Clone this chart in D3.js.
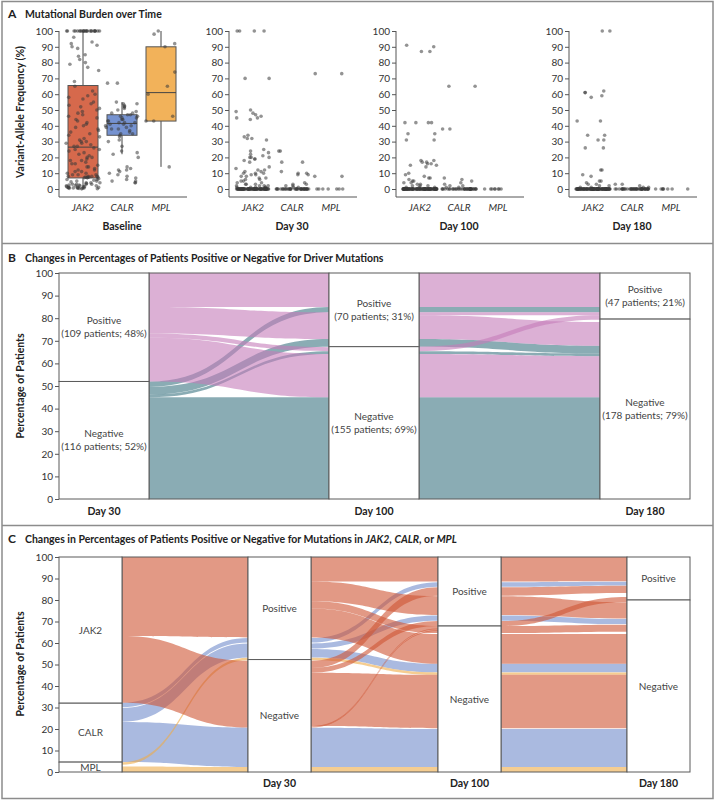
<!DOCTYPE html>
<html><head><meta charset="utf-8">
<script src="https://cdn.jsdelivr.net/npm/d3@7"></script>
<style>
body{margin:0;background:#fff;}
svg{display:block;font-family:Lato,"Open Sans",sans-serif;}
</style>
</head><body>
<svg id="chart" width="715" height="800"></svg>
<script>
// ---------------- DATA ----------------
const genes = ["JAK2", "CALR", "MPL"];
const timepoints = ["Baseline", "Day 30", "Day 100", "Day 180"];
const pctTicks = [0, 10, 20, 30, 40, 50, 60, 70, 80, 90, 100];

// Panel A: variant-allele frequency (%) per patient
const vafBaselineJAK2 = [100,100,100,100,100,100,100,100,100,100,100,100,100,100,100,100,100,100,100,100,100,100,100,100,
  96,93,92,91,90,89,85,84,82,80,79,77,75,68,
  65,62,60,59,58,57,55,54,53,52,51,50,49,48,47,46,45,44,43,42,41,40,39,38,37,36,35,34,33,32,31,30,30,29,29,28,27,27,
  26,25,25,24,23,22,21,20,20,19,18,18,17,16,16,15,14,14,13,12,12,11,11,10,10,9,9,9,8,8,8,8,7.5,7.5,7.5,7.2,7.2,7.1,
  6.5,6,6,5.5,5,5,4.5,4,4,4,3.5,3,3,3,3,2.5,2.5,2,2,2,2,1.5,1.5,1.5,1,1,1,1,1,0.8,0.7,0.6,0.5,0.5,0.4,0.3,0.2,0.1];
const vafBaselineCALR = [67,67,55,54,54,53,52,52,51,50,49,48,48,47,47,46,46,45,45,44,44,43,43,42,42,42,41,41,40,40,
  39,39,38,38,37,36,35,35,34,33,31,30,27,24,23,22,20,14,13,12,12,11,10,9,8,7,6,5,5,4,4];
const vafBaselineMPL = [100,98,92,90,74,65,60,46,43,43,14];

const vafDay30JAK2 = [100,100,100,100,70,70,50,49,48,47,46,45,45,44,34,33,32,32,31,25,24,23,22,21,20,20,20,19,19,18,17,
  14,13,12,12,11,11,10,10,10,9,9,8,8,7,7,6,6,5,5,4,4,3,3,3,2,2,2,2,1,1,1,1,1,
  0,0,0,0,0,0,0,0,0,0,0,0,0,0,0,0,0,0,0,0,0,0,0,0,0,0,0,0,0,0,0,0,0,0,0,0,0,0,0,0,
  0,0,0,0,0,0,0,0,0,0,0,0,0,0,0,0,0,0,0,0,0,0,0,0,0,0,0,0,0,0,0,0,0,0,0,0,0,0,0,0];
const vafDay30CALR = [24,24,17,17,11,10,10,9,9,4,3,3,2,2,1,1,
  0,0,0,0,0,0,0,0,0,0,0,0,0,0,0,0,0,0,0,0,0,0,0,0,0,0,0,0,0,0,0,0,0,0,0,0,0,0,0,0];
const vafDay30MPL = [73,73,8,8,0,0,0,0,0,0,0];

const vafDay100JAK2 = [91,90,87,87,42,42,42,42,35,35,31,31,18,18,17,17,16,16,15,15,14,10,9,8,7,7,6,5,5,4,4,3,3,2,2,2,1,1,1,
  0,0,0,0,0,0,0,0,0,0,0,0,0,0,0,0,0,0,0,0,0,0,0,0,0,0,0,0,0,0,0,0,0,0,0,0,0,0,0,0,
  0,0,0,0,0,0,0,0,0,0,0,0,0,0,0,0,0,0,0,0,0,0,0,0,0,0,0,0,0,0,0,0,0,0,0,0,0,0,0,0,
  0,0,0,0,0,0,0,0,0,0,0,0,0,0,0,0,0,0,0,0];
const vafDay100CALR = [65,65,38,38,7,6,5,4,3,2,2,1,1,
  0,0,0,0,0,0,0,0,0,0,0,0,0,0,0,0,0,0,0,0,0,0,0,0,0,0,0,0,0,0,0,0,0,0,0,0,0,0,0,0];
const vafDay100MPL = [0,0,0,0,0,0,0,0];

const vafDay180JAK2 = [100,100,62,61,61,59,58,43,43,34,34,31,31,26,26,12,12,9,8,5,5,4,3,3,2,2,1,1,
  0,0,0,0,0,0,0,0,0,0,0,0,0,0,0,0,0,0,0,0,0,0,0,0,0,0,0,0,0,0,0,0,0,0,0,0,0,0,0,0,
  0,0,0,0,0,0,0,0,0,0,0,0,0,0,0,0,0,0,0,0,0,0,0,0,0,0,0,0,0,0,0,0,0,0,0,0,0,0,0,0,
  0,0,0,0,0,0,0,0,0,0,0,0,0,0,0,0,0,0,0,0];
const vafDay180CALR = [3,3,2,1,1,
  0,0,0,0,0,0,0,0,0,0,0,0,0,0,0,0,0,0,0,0,0,0,0,0,0,0,0,0,0,0,0,0,0,0,0,0,0,0,0,0,0,0,0,0,0];
const vafDay180MPL = [0,0,0,0,0,0,0,0];

// Baseline box-plot statistics (JAK2, CALR, MPL)
const boxLow = [0, 22, 14];
const boxQ1 = [7, 34, 43];
const boxMedian = [26.5, 41.5, 61];
const boxQ3 = [65.5, 47, 90];
const boxHigh = [100, 55, 100];

// Panel B: strata
const stagesB = ["Day 30", "Day 100", "Day 180"];
const posLabelB = ["(109 patients; 48%)", "(70 patients; 31%)", "(47 patients; 21%)"];
const negLabelB = ["(116 patients; 52%)", "(155 patients; 69%)", "(178 patients; 79%)"];
const negShareB = [52, 67.4, 79.6];
// Panel B flows: [from lo, from hi, to lo, to hi, status at origin]
const flowsB1 = [
  [0, 45, 0, 45, "neg"], [45, 46.2, 64.2, 65.4, "neg"], [46.2, 49.6, 67.4, 70.8, "neg"], [49.6, 52, 82.6, 85, "neg"],
  [85, 100, 85, 100, "pos"], [73.2, 85, 70.8, 82.6, "pos"], [71.4, 73.2, 65.4, 67.2, "pos"], [52, 71.4, 45, 64.2, "pos"]
];
const flowsB2 = [
  [0, 45, 0, 45, "neg"], [82.6, 85, 82.6, 85, "neg"], [64.2, 65.4, 63.2, 64.4, "neg"], [67.4, 70.8, 64.4, 67.8, "neg"],
  [85, 100, 85, 100, "pos"], [81.3, 82.6, 81.3, 82.6, "pos"], [70.8, 81.3, 67.8, 78.3, "pos"],
  [65.4, 67.4, 79.3, 81.3, "pos"], [45, 64.2, 45, 63.2, "pos"]
];

// Panel C: strata
const stagesC = ["Baseline", "Day 30", "Day 100", "Day 180"];
const baselineGeneBounds = [[32, 100], [4.6, 32], [0, 4.6]]; // JAK2, CALR, MPL
const negShareC = [52.3, 67.9, 80];
// Panel C flows: [from lo, from hi, to lo, to hi, gene]
const flowsC1 = [
  [4.6, 23.2, 2.3, 20.6, "CALR"], [23.4, 29.8, 53.3, 59.8, "CALR"], [30.1, 32.2, 60.2, 62.3, "CALR"],
  [63.2, 100, 62.6, 100, "JAK2"], [32.2, 63.2, 20.7, 51.7, "JAK2"],
  [0, 2.6, 0, 2.3, "MPL"], [3.4, 4.5, 52.0, 53.1, "MPL"]
];
const flowsC2 = [
  [2.3, 20.6, 2.3, 20.0, "CALR"], [53.3, 57.2, 46.4, 50.3, "CALR"], [57.5, 59.8, 70.4, 72.8, "CALR"], [60.2, 62.3, 86.2, 88.3, "CALR"],
  [21.4, 46.2, 20.4, 45.2, "JAK2"], [46.2, 48.4, 67.9, 70.2, "JAK2"], [48.4, 51.7, 82.0, 85.9, "JAK2"],
  [62.6, 76.1, 50.4, 64.2, "JAK2"], [76.1, 79.4, 64.6, 67.9, "JAK2"], [79.4, 88.6, 73.0, 81.8, "JAK2"], [88.6, 100, 88.6, 100, "JAK2"],
  [20.7, 21.0, 65.6, 65.9, "JAK2"], [21.0, 21.3, 66.4, 66.7, "JAK2"],
  [0, 2.3, 0, 2.3, "MPL"], [52.0, 53.1, 45.2, 46.3, "MPL"]
];
const flowsC3 = [
  [2.3, 20.0, 2.3, 20.0, "CALR"], [46.4, 50.3, 46.4, 50.3, "CALR"], [70.4, 72.8, 68.8, 71.2, "CALR"], [86.2, 88.3, 86.8, 88.5, "CALR"],
  [20.4, 45.2, 20.4, 45.2, "JAK2"], [50.4, 64.2, 50.4, 64.2, "JAK2"], [64.6, 67.9, 65.2, 68.5, "JAK2"],
  [73.0, 81.8, 71.4, 79.0, "JAK2"], [82.0, 85.9, 83.2, 86.6, "JAK2"], [88.6, 100, 88.7, 100, "JAK2"],
  [67.9, 70.2, 79.1, 81.4, "JAK2"],
  [0, 2.3, 0, 2.3, "MPL"], [45.2, 46.3, 45.2, 46.3, "MPL"]
];

// ---------------- DRAW ----------------
const svg = d3.select("#chart");
const ink = "#222", axisInk = "#555", boxInk = "#5a5a5a";
const boxFill = {JAK2: "#d6694c", CALR: "#7592d0", MPL: "#f2b25a"};
const flowFill = {pos: "#c47bb9", neg: "#3c7582", JAK2: "#cf5534", CALR: "#718ccb", MPL: "#eeac48"};
const flowOpacity = 0.6;

// frame
svg.append("rect").attr("x", 2).attr("y", 1.5).attr("width", 711).attr("height", 797)
  .attr("fill", "none").attr("stroke", "#8c8c8c").attr("stroke-width", 1.5);
[243.5, 525.5].forEach(y => svg.append("line").attr("x1", 2).attr("x2", 713).attr("y1", y).attr("y2", y)
  .attr("stroke", "#8c8c8c").attr("stroke-width", 1.5));

function panelTitle(letter, y, parts) {
  svg.append("text").attr("x", 8).attr("y", y).attr("font-size", 12).attr("font-weight", 700).attr("fill", ink).text(letter);
  const t = svg.append("text").attr("x", 25).attr("y", y).attr("font-size", 10.5).attr("font-weight", 700).attr("fill", ink);
  parts.forEach(p => t.append("tspan").attr("font-style", p[1] ? "italic" : "normal").text(p[0]));
}
function yTitle(text, cy) {
  svg.append("text").attr("transform", `translate(24,${cy}) rotate(-90)`).attr("text-anchor", "middle")
    .attr("font-size", 10.5).attr("font-weight", 700).attr("fill", ink).text(text);
}
function styleAxis(g) {
  g.select(".domain").remove();
  g.selectAll(".tick line").attr("stroke", axisInk);
  g.selectAll(".tick text").attr("font-size", 10).attr("fill", "#333").attr("font-family", "Lato,'Open Sans',sans-serif");
}

// ===== Panel A =====
panelTitle("A", 18, [["Mutational Burden over Time", false]]);
yTitle("Variant-Allele Frequency (%)", 112);
const yA = d3.scaleLinear().domain([0, 100]).range([189, 31]);
const vafData = {
  "Baseline": [vafBaselineJAK2, vafBaselineCALR, vafBaselineMPL],
  "Day 30": [vafDay30JAK2, vafDay30CALR, vafDay30MPL],
  "Day 100": [vafDay100JAK2, vafDay100CALR, vafDay100MPL],
  "Day 180": [vafDay180JAK2, vafDay180CALR, vafDay180MPL]
};
const aLeft = [59, 229, 396, 569];
const aWidth = 128;
function jitter(i, k) { const s = Math.sin(i * 12.9898 + k * 78.233) * 43758.5453; return s - Math.floor(s); }

timepoints.forEach((tp, ti) => {
  const x0 = aLeft[ti];
  const x = d3.scalePoint().domain(genes).range([x0 + 24, x0 + 102]);
  const g = svg.append("g");
  const ax = g.append("g").attr("transform", `translate(${x0},0)`)
    .call(d3.axisLeft(yA).tickValues(pctTicks).tickSize(4).tickPadding(2));
  styleAxis(ax);
  g.append("path").attr("d", `M${x0},${yA(100)}V197H${x0 + aWidth}`).attr("fill", "none").attr("stroke", axisInk);

  if (tp === "Baseline") {
    genes.forEach((gn, gi) => {
      const cx = x(gn), hw = 15;
      g.append("line").attr("x1", cx).attr("x2", cx).attr("y1", yA(boxLow[gi])).attr("y2", yA(boxHigh[gi]))
        .attr("stroke", "#444").attr("stroke-width", 1);
      g.append("rect").attr("x", cx - hw).attr("width", 2 * hw).attr("y", yA(boxQ3[gi]))
        .attr("height", yA(boxQ1[gi]) - yA(boxQ3[gi])).attr("fill", boxFill[gn]).attr("stroke", "#555").attr("stroke-width", 1);
      g.append("line").attr("x1", cx - hw).attr("x2", cx + hw).attr("y1", yA(boxMedian[gi])).attr("y2", yA(boxMedian[gi]))
        .attr("stroke", "#444").attr("stroke-width", 1);
    });
  }
  genes.forEach((gn, gi) => {
    const vals = vafData[tp][gi];
    const spread = 17;
    g.append("g").selectAll("circle").data(vals).join("circle")
      .attr("cx", (d, i) => x(gn) + (jitter(i + 1, gi + ti * 3 + 1) * 2 - 1) * spread)
      .attr("cy", d => yA(d))
      .attr("r", 1.8).attr("fill", "#3a3a3a").attr("fill-opacity", 0.55);
    g.append("text").attr("x", x(gn)).attr("y", 211).attr("text-anchor", "middle").attr("font-size", 10)
      .attr("font-style", "italic").attr("fill", "#333").text(gn);
  });
  g.append("text").attr("x", x0 + 63).attr("y", 230).attr("text-anchor", "middle").attr("font-size", 10.5)
    .attr("font-weight", 700).attr("fill", ink).text(tp);
});

// ribbon helper
function ribbon(x0, x1, y, f) {
  const xm = (x0 + x1) / 2;
  const a0 = y(f[0]), a1 = y(f[1]), b0 = y(f[2]), b1 = y(f[3]);
  return `M${x0},${a1}C${xm},${a1} ${xm},${b1} ${x1},${b1}L${x1},${b0}C${xm},${b0} ${xm},${a0} ${x0},${a0}Z`;
}
function drawFlows(flows, x0, x1, y, order) {
  const g = svg.append("g");
  const sorted = flows.slice().sort((a, b) => order.indexOf(a[4]) - order.indexOf(b[4]));
  g.selectAll("path").data(sorted).join("path")
    .attr("d", f => ribbon(x0, x1, y, f))
    .attr("fill", f => flowFill[f[4]]).attr("fill-opacity", flowOpacity).attr("stroke", "none");
  g.append("rect").attr("x", x0).attr("y", y(100)).attr("width", x1 - x0).attr("height", y(0) - y(100))
    .attr("fill", "none").attr("stroke", boxInk).attr("stroke-width", 1);
}
function stratumBox(x0, x1, y, lo, hi, lines) {
  svg.append("rect").attr("x", x0).attr("y", y(hi)).attr("width", x1 - x0).attr("height", y(lo) - y(hi))
    .attr("fill", "#fff").attr("stroke", boxInk).attr("stroke-width", 1);
  const cy = y((lo + hi) / 2);
  const t = svg.append("text").attr("text-anchor", "middle").attr("font-size", 10).attr("fill", "#444");
  lines.forEach((ln, i) => t.append("tspan").attr("x", (x0 + x1) / 2)
    .attr("y", cy + 3.5 + (i - (lines.length - 1) / 2) * 12.5).text(ln));
}

// ===== Panel B =====
panelTitle("B", 262, [["Changes in Percentages of Patients Positive or Negative for Driver Mutations", false]]);
yTitle("Percentage of Patients", 386);
const yB = d3.scaleLinear().domain([0, 100]).range([499, 273]);
const axB = svg.append("g").attr("transform", "translate(59,0)").call(d3.axisLeft(yB).tickValues(pctTicks).tickSize(4).tickPadding(2));
styleAxis(axB);
const colB = [[59, 149], [329, 419], [600, 690]];
drawFlows(flowsB1, 149, 329, yB, ["neg", "pos"]);
drawFlows(flowsB2, 419, 600, yB, ["neg", "pos"]);
stagesB.forEach((s, i) => {
  const [x0, x1] = colB[i];
  stratumBox(x0, x1, yB, negShareB[i], 100, ["Positive", posLabelB[i]]);
  stratumBox(x0, x1, yB, 0, negShareB[i], ["Negative", negLabelB[i]]);
  svg.append("text").attr("x", (x0 + x1) / 2).attr("y", 515).attr("text-anchor", "middle").attr("font-size", 10.5)
    .attr("font-weight", 700).attr("fill", ink).text(s);
});

// ===== Panel C =====
panelTitle("C", 543, [["Changes in Percentages of Patients Positive or Negative for Mutations in ", false],
  ["JAK2", true], [", ", false], ["CALR", true], [", or ", false], ["MPL", true]]);
yTitle("Percentage of Patients", 664);
const yC = d3.scaleLinear().domain([0, 100]).range([772, 557]);
const axC = svg.append("g").attr("transform", "translate(59,0)").call(d3.axisLeft(yC).tickValues(pctTicks).tickSize(4).tickPadding(2));
styleAxis(axC);
const colC = [[59, 122], [248, 311], [438, 501], [627, 690]];
const orderC = ["CALR", "MPL", "JAK2"];
drawFlows(flowsC1, 122, 248, yC, orderC);
drawFlows(flowsC2, 311, 438, yC, orderC);
drawFlows(flowsC3, 501, 627, yC, orderC);
genes.forEach((gn, gi) => stratumBox(59, 122, yC, baselineGeneBounds[gi][0], baselineGeneBounds[gi][1], [gn]));
stagesC.slice(1).forEach((s, i) => {
  const [x0, x1] = colC[i + 1];
  stratumBox(x0, x1, yC, negShareC[i], 100, ["Positive"]);
  stratumBox(x0, x1, yC, 0, negShareC[i], ["Negative"]);
  svg.append("text").attr("x", (x0 + x1) / 2).attr("y", 787).attr("text-anchor", "middle").attr("font-size", 10.5)
    .attr("font-weight", 700).attr("fill", ink).text(s);
});
</script>
</body></html>
